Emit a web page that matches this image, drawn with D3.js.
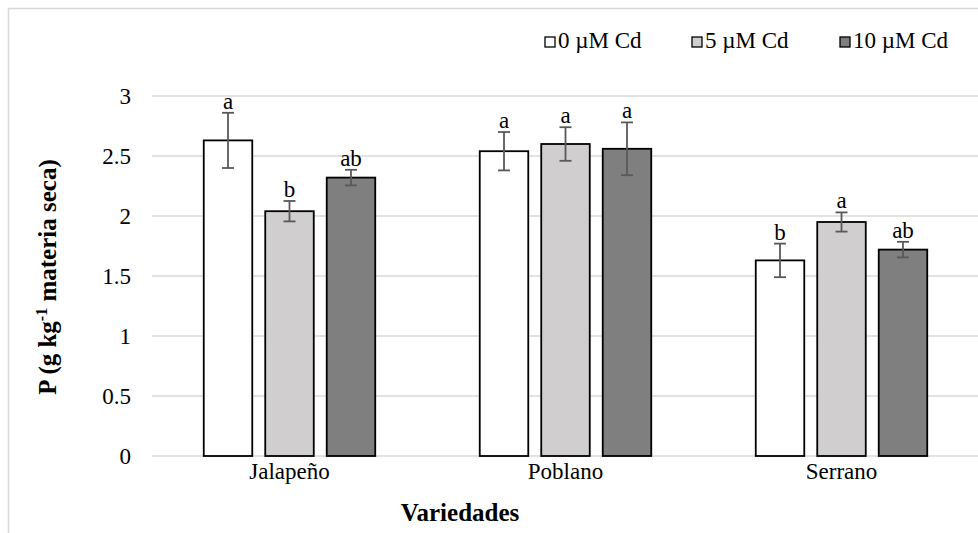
<!DOCTYPE html>
<html>
<head>
<meta charset="utf-8">
<script src="https://cdn.jsdelivr.net/npm/d3@7"></script>
<style>
  body { margin: 0; background: #fff; }
  text { font-family: "Liberation Serif", "Times New Roman", serif; fill: #000; }
</style>
</head>
<body>
<div id="chart"></div>
<script>
var width = 978;
var height = 533;

// data
var varieties = ["Jalapeño", "Poblano", "Serrano"];
var treatments = ["0 µM Cd", "5 µM Cd", "10 µM Cd"];
var fills = ["#ffffff", "#d0cece", "#7f7f7f"];
var means = [
  [2.63, 2.04, 2.32],
  [2.54, 2.60, 2.56],
  [1.63, 1.95, 1.72]
];
var errors = [
  [0.23, 0.085, 0.065],
  [0.16, 0.14, 0.22],
  [0.14, 0.08, 0.065]
];
var letters = [
  ["a", "b", "ab"],
  ["a", "a", "a"],
  ["b", "a", "ab"]
];
var yTicks = [0, 0.5, 1, 1.5, 2, 2.5, 3];

var svg = d3.select("#chart")
  .append("svg")
  .attr("width", width)
  .attr("height", height);

// chart border
svg.append("rect")
  .attr("x", 8.5).attr("y", 8.5)
  .attr("width", 1000).attr("height", 600)
  .attr("fill", "none")
  .attr("stroke", "#d9d9d9")
  .attr("stroke-width", 1.5);

var xScale = d3.scaleBand()
  .domain(varieties)
  .range([151.5, 979.5]);

var inner = d3.scaleBand()
  .domain(d3.range(treatments.length))
  .range([-85.75, 85.75])
  .paddingInner(0.211);

var yScale = d3.scaleLinear()
  .domain([0, 3])
  .range([456, 96]);

// gridlines
svg.append("g")
  .selectAll("line")
  .data(yTicks)
  .enter()
  .append("line")
  .attr("x1", 152)
  .attr("x2", 978)
  .attr("y1", function(d) { return yScale(d); })
  .attr("y2", function(d) { return yScale(d); })
  .attr("stroke", "#d9d9d9")
  .attr("stroke-width", 1.5);

// y tick labels
svg.append("g")
  .selectAll("text")
  .data(yTicks)
  .enter()
  .append("text")
  .attr("text-anchor", "end")
  .attr("x", 131)
  .attr("y", function(d) { return yScale(d); })
  .attr("dy", "0.33em")
  .style("font-size", "23px")
  .text(function(d) { return d; });

// bars, error bars and letters
var groups = svg.selectAll(".grp")
  .data(varieties)
  .enter()
  .append("g")
  .attr("class", "grp")
  .attr("transform", function(d) { return "translate(" + (xScale(d) + xScale.bandwidth() / 2) + ",0)"; });

groups.each(function(v, i) {
  var g = d3.select(this);
  var rows = treatments.map(function(t, j) {
    return { j: j, m: means[i][j], e: errors[i][j], l: letters[i][j] };
  });

  g.selectAll("rect")
    .data(rows)
    .enter()
    .append("rect")
    .attr("x", function(d) { return inner(d.j); })
    .attr("width", inner.bandwidth())
    .attr("y", function(d) { return yScale(d.m); })
    .attr("height", function(d) { return yScale(0) - yScale(d.m); })
    .attr("fill", function(d) { return fills[d.j]; })
    .attr("stroke", "#000")
    .attr("stroke-width", 1.8);

  var eb = g.selectAll(".err")
    .data(rows)
    .enter()
    .append("g")
    .attr("class", "err")
    .attr("stroke", "#595959")
    .attr("stroke-width", 1.8);
  eb.append("line")
    .attr("x1", function(d) { return inner(d.j) + inner.bandwidth() / 2; })
    .attr("x2", function(d) { return inner(d.j) + inner.bandwidth() / 2; })
    .attr("y1", function(d) { return yScale(d.m + d.e); })
    .attr("y2", function(d) { return yScale(d.m - d.e); });
  [1, -1].forEach(function(s) {
    eb.append("line")
      .attr("x1", function(d) { return inner(d.j) + inner.bandwidth() / 2 - 6; })
      .attr("x2", function(d) { return inner(d.j) + inner.bandwidth() / 2 + 6; })
      .attr("y1", function(d) { return yScale(d.m + s * d.e); })
      .attr("y2", function(d) { return yScale(d.m + s * d.e); });
  });

  g.selectAll(".lab")
    .data(rows)
    .enter()
    .append("text")
    .attr("class", "lab")
    .attr("text-anchor", "middle")
    .attr("x", function(d) { return inner(d.j) + inner.bandwidth() / 2; })
    .attr("y", function(d) { return yScale(d.m + d.e) - 4; })
    .style("font-size", "23px")
    .text(function(d) { return d.l; });
});

// category labels
svg.append("g")
  .selectAll("text")
  .data(varieties)
  .enter()
  .append("text")
  .attr("text-anchor", "middle")
  .attr("x", function(d) { return xScale(d) + xScale.bandwidth() / 2; })
  .attr("y", 479)
  .style("font-size", "23px")
  .text(function(d) { return d; });

// axis titles
svg.append("text")
  .attr("text-anchor", "middle")
  .attr("x", 460)
  .attr("y", 521)
  .style("font-size", "25px")
  .style("font-weight", "bold")
  .text("Variedades");

var yt = svg.append("text")
  .attr("text-anchor", "middle")
  .style("font-size", "25px")
  .style("font-weight", "bold")
  .attr("transform", "translate(56,277) rotate(-90)");
yt.append("tspan").text("P (g kg");
yt.append("tspan").attr("dy", -9).style("font-size", "16px").text("-1");
yt.append("tspan").attr("dy", 9).text(" materia seca)");

// legend
var legX = [545, 692, 840];
var leg = svg.selectAll(".leg")
  .data(treatments)
  .enter()
  .append("g")
  .attr("class", "leg")
  .attr("transform", function(d, i) { return "translate(" + legX[i] + ",37)"; });
leg.append("rect")
  .attr("width", 10).attr("height", 10)
  .attr("fill", function(d, i) { return fills[i]; })
  .attr("stroke", "#000")
  .attr("stroke-width", 1.3);
leg.append("text")
  .attr("x", 13)
  .attr("y", 11)
  .style("font-size", "23px")
  .text(function(d) { return d; });
</script>
</body>
</html>
